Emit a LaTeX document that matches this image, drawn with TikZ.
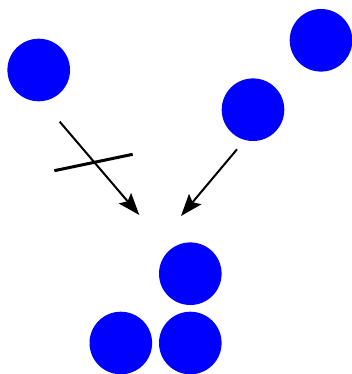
\documentclass[tikz,border=0pt]{standalone}
\usepackage{tikz}
\usetikzlibrary{arrows.meta}

\begin{document}
\begin{tikzpicture}[x=1pt, y=-1pt,
    ball/.style={circle, fill=blue, inner sep=0pt, minimum size=62.6pt},
    arr/.style={-{Stealth[length=22pt, width=16pt, inset=4pt]}, line width=2pt},
    bar/.style={line width=3pt}]
  \useasboundingbox (0,0) rectangle (351,374);
  \node[ball] (single) at (38.7,70) {};
  \node[ball] (pairtop) at (321,40.3) {};
  \node[ball] (pairlow) at (253,109.7) {};
  \node[ball] (top) at (190.3,273.7) {};
  \node[ball] (botl) at (120.8,343) {};
  \node[ball] (botr) at (190.3,343) {};
  \coordinate (s0) at (59.7,121.7);
  \coordinate (s1) at (139.3,215);
  \coordinate (p0) at (237,149.3);
  \coordinate (p1) at (181,216);
  \coordinate (x0) at (54.3,170.7);
  \coordinate (x1) at (132.7,154.3);
  \draw[arr] (s0) -- (s1);
  \draw[arr] (p0) -- (p1);
  \draw[bar] (x0) -- (x1);
\end{tikzpicture}
\end{document}
